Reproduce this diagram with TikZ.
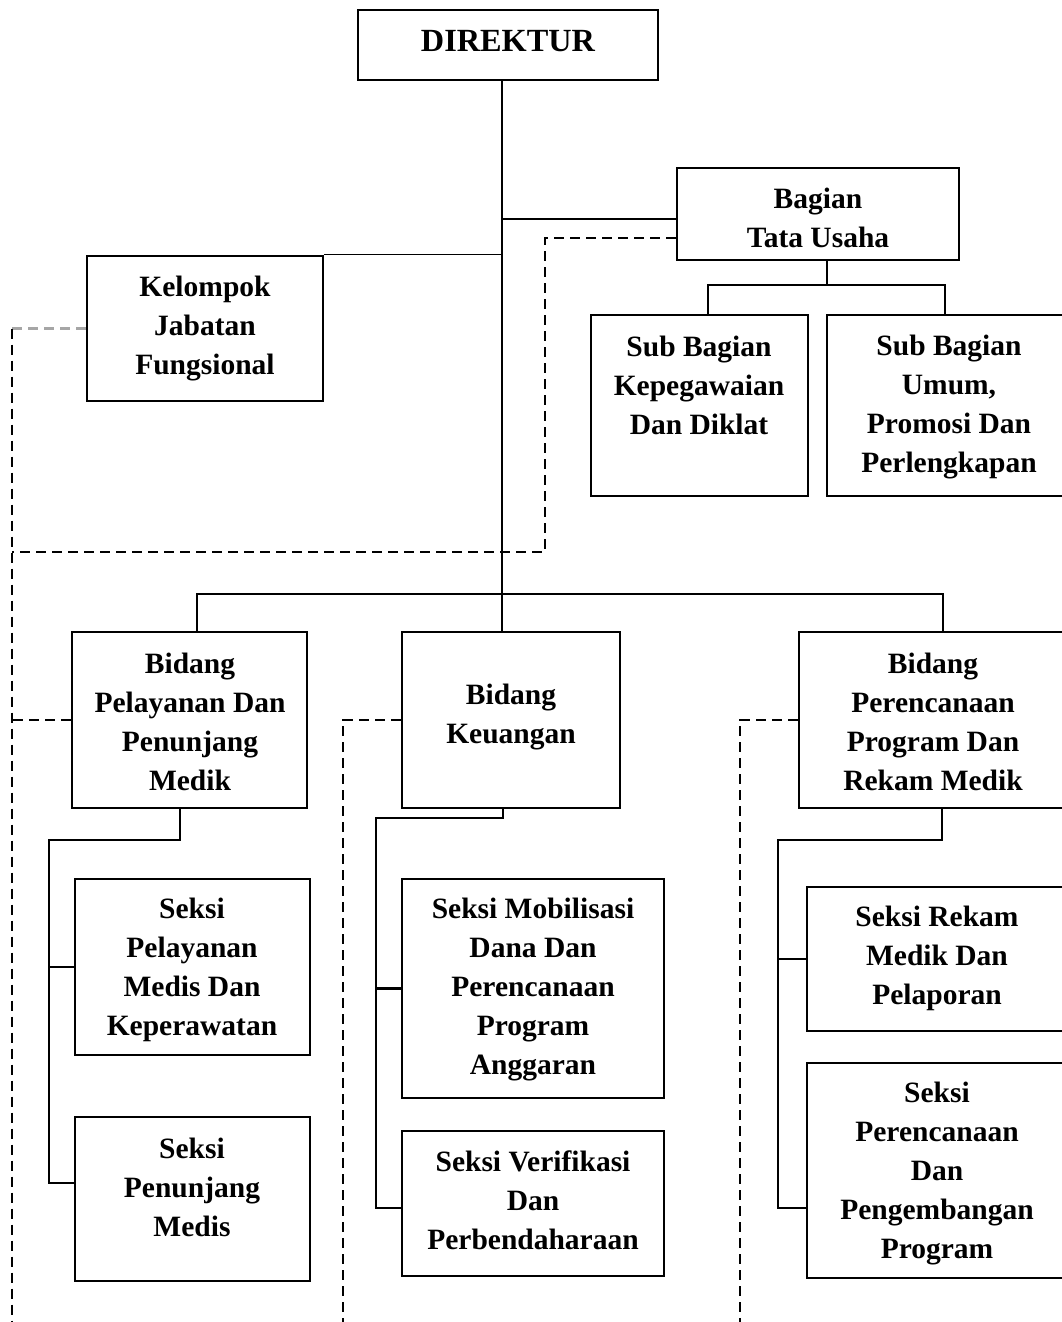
\documentclass[tikz,border=0pt]{standalone}
\usepackage{fontspec}
\setmainfont{Liberation Serif}
\usetikzlibrary{fit}
\begin{document}
\begin{tikzpicture}[x=1pt,y=-1pt,
  unit/.style={draw, line width=2.9pt, inner sep=0pt},
  lbl/.style={align=center, inner sep=0pt,
    font=\bfseries\fontsize{29.5}{39}\selectfont},
  biglbl/.style={lbl, font=\bfseries\fontsize{32.3}{39}\selectfont},
  link/.style={line width=2.7pt},
  thinlink/.style={line width=1.5pt},
  dashline/.style={line width=2.4pt, dash pattern=on 10pt off 6pt},
  grayline/.style={dashline, color=black!35}]
\useasboundingbox (0,0) rectangle (1062,1322);
\clip (0,0) rectangle (1062,1322);

% ---- boxes ----
\node[unit, fit={(358,10) (658,80)}] (dir) {};
\node[unit, fit={(677,168) (959,260)}] (tu) {};
\node[unit, fit={(87,256) (323,401)}] (kel) {};
\node[unit, fit={(591,315) (808,496)}] (kep) {};
\node[unit, fit={(827,315) (1071,496)}] (umum) {};
\node[unit, fit={(72,632) (307,808)}] (pel) {};
\node[unit, fit={(402,632) (620,808)}] (keu) {};
\node[unit, fit={(799,632) (1067,808)}] (per) {};
\node[unit, fit={(75,879) (310,1055)}] (spm) {};
\node[unit, fit={(75,1117) (310,1281)}] (pen) {};
\node[unit, fit={(402,879) (664,1098)}] (mob) {};
\node[unit, fit={(402,1131) (664,1276)}] (ver) {};
\node[unit, fit={(807,887) (1067,1031)}] (rek) {};
\node[unit, fit={(807,1063) (1067,1278)}] (ppp) {};

% ---- labels ----
\node[biglbl] (dir-t) at (508,41) {DIREKTUR};
\node[lbl] (tu-t) at (818,218) {Bagian\\Tata Usaha};
\node[lbl] (kel-t) at (205,329) {Kelompok\\Jabatan\\Fungsional};
\node[lbl] (kep-t) at (699,385) {Sub Bagian\\Kepegawaian\\Dan Diklat};
\node[lbl] (umum-t) at (949,407) {Sub Bagian\\Umum,\\Promosi Dan\\Perlengkapan};
\node[lbl] (pel-t) at (190,722) {Bidang\\Pelayanan Dan\\Penunjang\\Medik};
\node[lbl] (keu-t) at (511,717) {Bidang\\Keuangan};
\node[lbl] (per-t) at (933,722) {Bidang\\Perencanaan\\Program Dan\\Rekam Medik};
\node[lbl] (spm-t) at (192,970) {Seksi\\Pelayanan\\Medis Dan\\Keperawatan};
\node[lbl] (pen-t) at (192,1187) {Seksi\\Penunjang\\Medis};
\node[lbl] (mob-t) at (533,990) {Seksi Mobilisasi\\Dana Dan\\Perencanaan\\Program\\Anggaran};
\node[lbl] (ver-t) at (533,1200) {Seksi Verifikasi\\Dan\\Perbendaharaan};
\node[lbl] (rek-t) at (937,958) {Seksi Rekam\\Medik Dan\\Pelaporan};
\node[lbl] (ppp-t) at (937,1174) {Seksi\\Perencanaan\\Dan\\Pengembangan\\Program};

% ---- junction points ----
\coordinate (trunk) at (502,594);
\coordinate (tuj) at ([yshift=-5pt]tu.west);
\coordinate (tud) at ([yshift=-24pt]tu.west);
\coordinate (busL) at (197,594);
\coordinate (busR) at (943,594);
\coordinate (sbus) at (827,285);
\coordinate (sbL) at (708,285);
\coordinate (sbR) at (945,285);
\coordinate (pa) at (180,840);
\coordinate (pb) at (49,840);
\coordinate (pc) at (49,1183);
\coordinate (ka) at (503,818);
\coordinate (kb) at (376,818);
\coordinate (kc) at (376,1208);
\coordinate (ra) at (942,840);
\coordinate (rb) at (778,840);
\coordinate (rc) at (778,1208);
\coordinate (tdash) at (545,552);
\coordinate (ldash) at (12,552);
\coordinate (ldashend) at (12,1322);
\coordinate (kdash) at (343,1322);
\coordinate (pdash) at (740,1322);

% ---- solid connectors ----
\draw[link] (trunk |- dir.south) -- (trunk |- keu.north);
\draw[link] (tuj) -- (trunk |- tuj);
\draw[thinlink] (kel.north east) -- (trunk |- kel.north east);
\draw[link] (busL |- pel.north) -- (busL) -- (busR) -- (busR |- per.north);
\draw[thinlink] (sbus |- tu.south) -- (sbus);
\draw[thinlink] (sbL |- kep.north) -- (sbL) -- (sbR) -- (sbR |- umum.north);

\draw[link] (pa |- pel.south) -- (pa) -- (pb) -- (pc) -- (pc -| pen.west);
\draw[link] (pb |- spm.west) -- (spm.west);
\draw[link] (ka |- keu.south) -- (ka) -- (kb) -- (kc) -- (kc -| ver.west);
\draw[link] (kb |- mob.west) -- (mob.west);
\draw[link] (ra |- per.south) -- (ra) -- (rb) -- (rc) -- (rc -| ppp.west);
\draw[link] (rb |- rek.west) -- (rek.west);

% ---- dashed (coordination) lines ----
\draw[dashline] (tud) -| (tdash) -- (ldash);
\draw[grayline] (kel.west) -- (ldash |- kel.west);
\draw[dashline] (ldash |- kel.west) -- (ldashend);
\draw[dashline] (pel.west) -- (ldash |- pel.west);
\draw[dashline] (keu.west) -| (kdash);
\draw[dashline] (per.west) -| (pdash);
\end{tikzpicture}
\end{document}
